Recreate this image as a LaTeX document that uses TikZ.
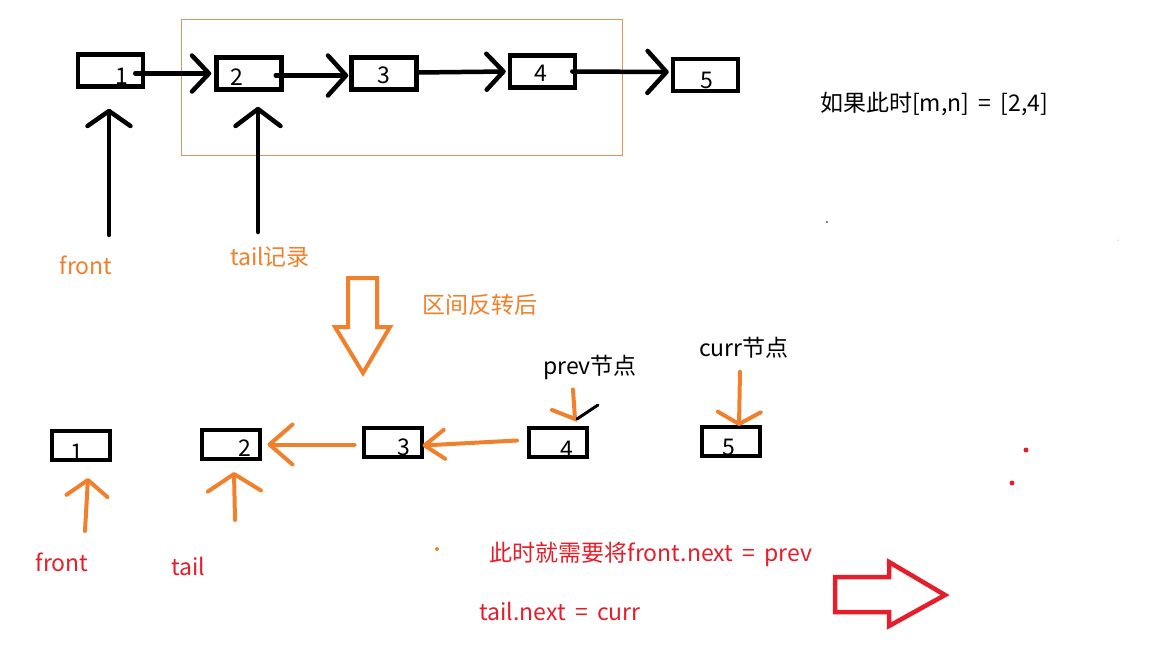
\documentclass[tikz,border=0pt]{standalone}
\usepackage{fontspec}
\setmainfont{Noto Sans CJK SC}
\usetikzlibrary{arrows.meta}
\definecolor{ora}{RGB}{240,128,44}
\definecolor{rd}{RGB}{228,30,42}
\definecolor{boxor}{RGB}{228,150,90}
\newcommand{\eqsp}{\hspace{0.4em}=\hspace{0.4em}}
\begin{document}
\begin{tikzpicture}[x=1pt,y=-1pt,
  tnode/.style={draw=black,line width=4.5pt,minimum width=65pt,minimum height=32pt,inner sep=0pt},
  bnode/.style={draw=black,line width=4pt,minimum width=58pt,minimum height=29pt,inner sep=0pt},
  digit/.style={font=\fontsize{23}{25}\selectfont,inner sep=0pt},
  txt/.style={font=\fontsize{23}{26}\selectfont,inner sep=0pt},
  blk/.style={line width=4.5pt,line cap=round,black},
  org/.style={line width=4pt,line cap=round,ora},
]
\useasboundingbox[fill=white] (0,0) rectangle (1152,648);

% orange frame
\draw[boxor,line width=1pt] (181,19) rectangle (622,155);

% top row
\node[tnode] (t1) at (110.5,70.5) {};
\node[tnode] (t2) at (249,73.5) {};
\node[tnode] (t3) at (384,73.5) {};
\node[tnode] (t4) at (542.5,71.5) {};
\node[tnode] (t5) at (705.5,75) {};
\node[digit] (d1) at (122,76) {1};
\node[digit] (d2) at (237,77) {2};
\node[digit] (d3) at (384,75) {3};
\node[digit] (d4) at (541,73) {4};
\node[digit] (d5) at (707,80) {5};

\draw[blk,-{Straight Barb[length=17pt,width=36pt,round]}] ([xshift=-10pt,yshift=-3pt]t1.east) -- ([xshift=-3pt]t2.west);
\draw[blk,-{Straight Barb[length=18pt,width=40pt,round]}] ([xshift=-8pt,yshift=-2pt]t2.east) -- ([xshift=-1pt,yshift=-2pt]t3.west);
\draw[blk,-{Straight Barb[length=17pt,width=36pt,round]}] ([xshift=-2pt,yshift=1pt]t3.east) -- ([xshift=-2pt]t4.west);
\draw[blk,-{Straight Barb[length=19pt,width=42pt,round]}] ([xshift=-5pt]t4.east) -- ([xshift=-2pt,yshift=3pt]t5.west);

% pointer arrows top
\coordinate (fp) at (109,235);
\coordinate (tp) at (258,232);
\draw[blk,-{Straight Barb[length=15pt,width=43pt,round]}] (fp) -- ([xshift=-1.5pt,yshift=-20pt]t1.south);
\draw[blk,-{Straight Barb[length=17pt,width=45pt,round]}] (tp) -- ([xshift=9pt,yshift=-15pt]t2.south);

\node[txt,text=ora] (lf) at (86,265) {front};
\node[txt,text=ora] (lt) at (270,257) {tail记录};
\node[txt,text=ora] (lr) at (480,305) {区间反转后};
\node[txt] (cond) at (934,104) {如果此时[m,n]\eqsp[2,4]};

% hollow down arrow
\draw[ora,line width=4pt,line join=miter] (348,278) -- (377,278) -- (377,327) -- (390,327) -- (363,373) -- (335,327) -- (348,327) -- cycle;

% bottom row
\node[bnode] (b1) at (81,445.5) {};
\node[bnode] (b2) at (230.5,444.5) {};
\node[bnode] (b3) at (392.5,442.5) {};
\node[bnode] (b4) at (558,442.5) {};
\node[bnode] (b5) at (731,441.5) {};
\node[digit] (e1) at (77,452) {1};
\node[digit] (e2) at (245,448) {2};
\node[digit] (e3) at (404,447) {3};
\node[digit] (e4) at (567,449) {4};
\node[digit] (e5) at (729,447) {5};

\draw[org,-{Straight Barb[length=23pt,width=40pt,round]}] ([xshift=-7pt,yshift=-2pt]b3.west) -- ([xshift=6pt,yshift=0pt]b2.east);
\draw[org,-{Straight Barb[length=20pt,width=29pt,round]}] ([xshift=-10pt,yshift=2pt]b4.west) -- ([xshift=-1pt,yshift=-3pt]b3.east);

\coordinate (bf) at (85,531);
\coordinate (bt) at (235,520);
\draw[org,-{Straight Barb[length=16pt,width=41pt,round]}] (bf) -- ([xshift=7pt,yshift=-16pt]b1.south);
\draw[org,-{Straight Barb[length=17pt,width=53pt,round]}] (bt) -- ([xshift=3.5pt,yshift=-11pt]b2.south);

\node[txt] (lp) at (590,367) {prev节点};
\node[txt] (lc) at (744,348) {curr节点};

% prev pointer
\coordinate (pt) at (575,419);
\draw[org] ([xshift=-17pt,yshift=-10pt]lp.south) -- (pt) -- ++(-23,-9);
\draw[line width=3pt,line cap=round,black] (pt) ++(2,0) -- ++(21,-14);
% curr pointer
\draw[org,-{Straight Barb[length=12pt,width=43pt,round]}] ([xshift=-4pt,yshift=-13pt]lc.south) -- ([xshift=8pt,yshift=-1pt]b5.north);

\node[txt,text=rd] (rf) at (62,562) {front};
\node[txt,text=rd] (rt) at (188,566) {tail};
\node[txt,text=rd] (r1) at (651,554) {此时就需要将front.next\eqsp prev};
\node[txt,text=rd] (r2) at (560,611) {tail.next\eqsp curr};

% red hollow arrow
\draw[rd,line width=4.5pt,line join=miter] (835,577) -- (889,577) -- (889,562) -- (945,595) -- (889,626) -- (889,612) -- (835,612) -- cycle;

% stray dots
\fill[rd] (1026,450) circle[radius=2.5pt];
\fill[rd] (1012,483) circle[radius=2.5pt];
\fill[ora] (437,549) circle[radius=2pt];
\fill[black] (827,222) circle[radius=0.8pt];
\fill[black!60] (1118,240) circle[radius=0.5pt];
\end{tikzpicture}
\end{document}
